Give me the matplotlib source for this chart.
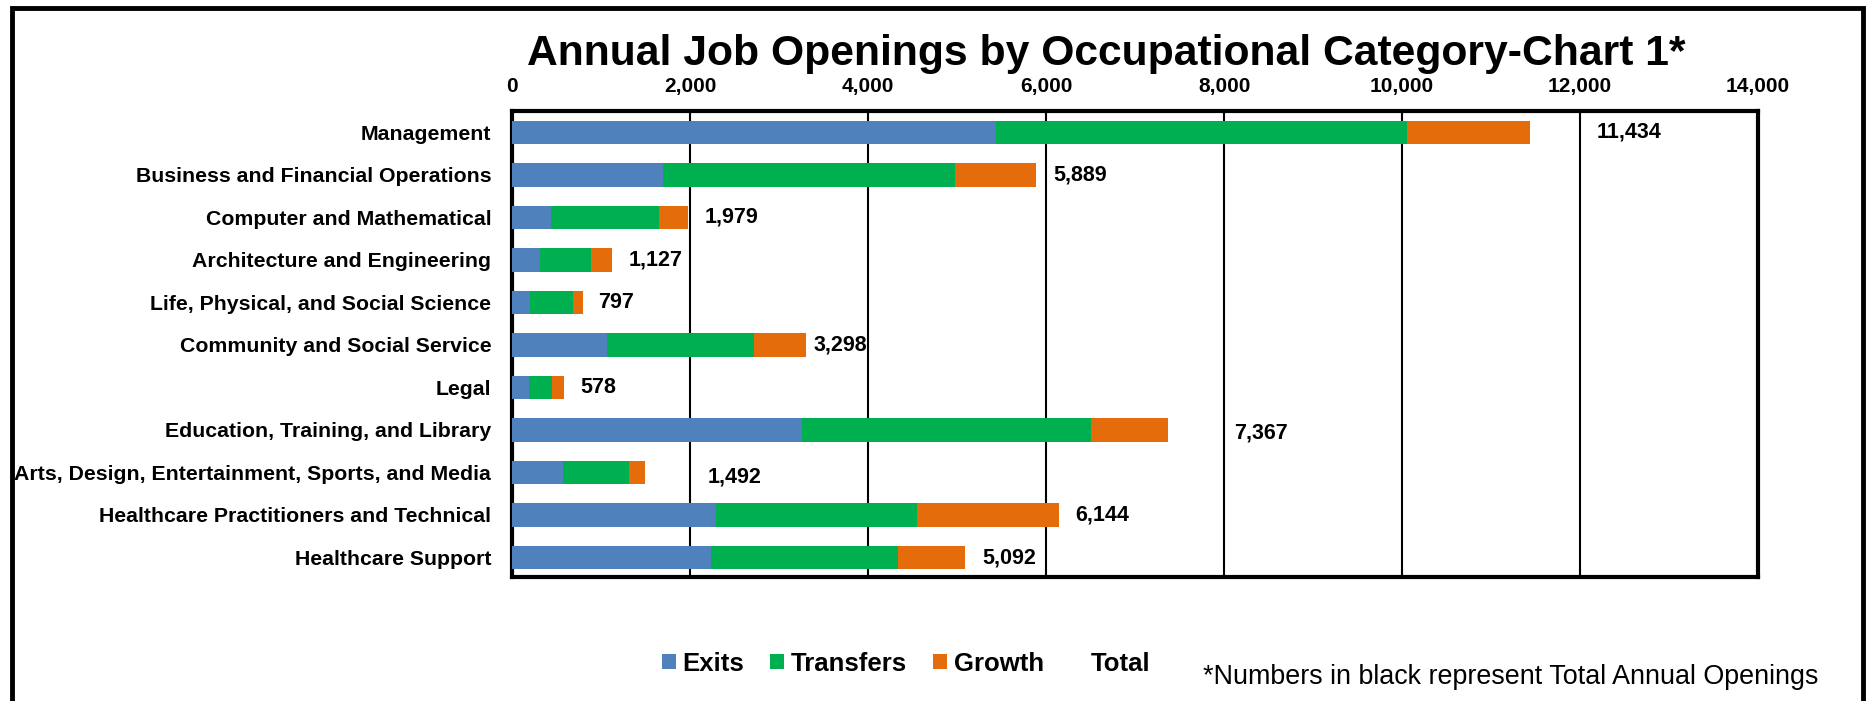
import matplotlib
matplotlib.use("Agg")
import matplotlib.pyplot as plt
from matplotlib.patches import Patch, Rectangle
from matplotlib.ticker import FuncFormatter

plt.rcParams['font.family'] = ['Liberation Sans', 'DejaVu Sans']

categories = [
    "Management",
    "Business and Financial Operations",
    "Computer and Mathematical",
    "Architecture and Engineering",
    "Life, Physical, and Social Science",
    "Community and Social Service",
    "Legal",
    "Education, Training, and Library",
    "Arts, Design, Entertainment, Sports, and Media",
    "Healthcare Practitioners and Technical",
    "Healthcare Support",
]
exits = [5440, 1697, 440, 310, 200, 1064, 188, 3257, 567, 2290, 2233]
transfers = [4620, 3283, 1205, 580, 480, 1652, 264, 3245, 749, 2257, 2108]
growth = [1374, 909, 334, 237, 117, 582, 126, 865, 176, 1597, 751]
totals = [11434, 5889, 1979, 1127, 797, 3298, 578, 7367, 1492, 6144, 5092]

# where the total labels sit after the bar end (points), as in the original
label_pad = [48, 12, 12, 12, 11, 6, 12, 48, 45, 12, 12]
label_dy = [0, 0, 0, 0, 0, 0, 0, -2, -3, 0, 0]

c_exits = "#4F81BD"
c_transfers = "#00B050"
c_growth = "#E46C0A"

fig = plt.figure(figsize=(18.69, 7.01), dpi=100)
ax = fig.add_axes([0.274, 0.1762, 0.6667, 0.6659])

y = range(len(categories))
left2 = [a + b for a, b in zip(exits, transfers)]
ax.barh(y, exits, height=0.55, color=c_exits, zorder=3)
ax.barh(y, transfers, left=exits, height=0.55, color=c_transfers, zorder=3)
ax.barh(y, growth, left=left2, height=0.55, color=c_growth, zorder=3)

for i, t in enumerate(totals):
    ax.annotate(f"{t:,}", xy=(t, i), xytext=(label_pad[i], label_dy[i]),
                textcoords="offset points", ha="left", va="center",
                fontsize=15.5, fontweight="bold", zorder=4)

ax.set_xlim(0, 14000)
ax.set_ylim(len(categories) - 1 + 0.47, -0.51)
ax.set_xticks(range(0, 14001, 2000))
ax.xaxis.set_major_formatter(FuncFormatter(lambda v, p: f"{int(v):,}"))
ax.xaxis.tick_top()
ax.tick_params(axis="x", length=0, pad=10.5, labelsize=15)
ax.set_yticks(list(y))
ax.set_yticklabels(categories)
ax.tick_params(axis="y", length=0, pad=15, labelsize=15.3)
for lab in ax.get_xticklabels() + ax.get_yticklabels():
    lab.set_fontweight("bold")

ax.grid(axis="x", color="black", linewidth=1.5, zorder=1)
for s in ax.spines.values():
    s.set_linewidth(3)
    s.set_color("black")

fig.text(0.592, 0.923, "Annual Job Openings by Occupational Category-Chart 1*",
         ha="center", va="center", fontsize=30.7, fontweight="bold")

handles = [
    Patch(facecolor=c_exits, label="Exits"),
    Patch(facecolor=c_transfers, label="Transfers"),
    Patch(facecolor=c_growth, label="Growth"),
    Patch(facecolor="none", edgecolor="none", label="Total"),
]
fig.legend(handles=handles, loc="center left", bbox_to_anchor=(0.3416, 0.053),
           ncol=4, frameon=False, handlelength=0.55, handleheight=0.55,
           handletextpad=0.27, columnspacing=1.0,
           prop={"weight": "bold", "size": 18.5})

fig.text(0.6437, 0.034, "*Numbers in black represent Total Annual Openings",
         ha="left", va="center", fontsize=19.4)

# outer chart frame (open at the bottom)
fig.patches.append(Rectangle((12 / 1869, -0.1), (1863 - 12) / 1869, 1.1 - 8 / 701,
                             transform=fig.transFigure, fill=False,
                             edgecolor="black", linewidth=3.5))

fig.savefig("out.png", dpi=100)
